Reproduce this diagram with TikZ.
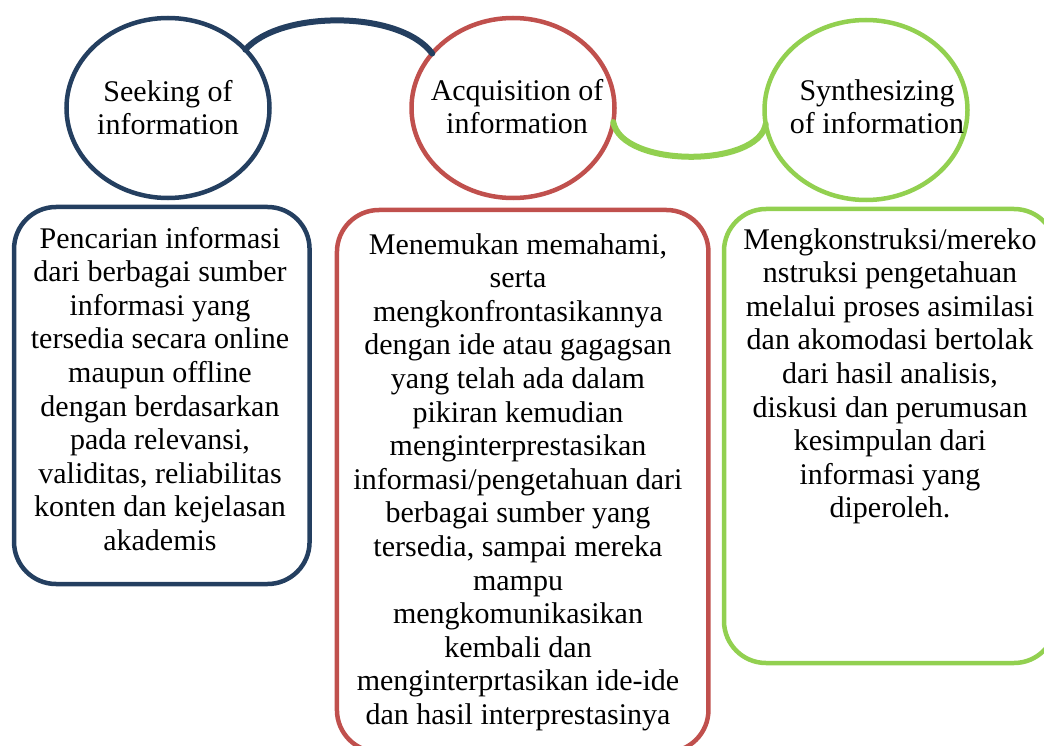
\documentclass[tikz,border=0pt]{standalone}
\usepackage{fontspec}
\setmainfont{Liberation Serif}
\usetikzlibrary{shapes.geometric}
\definecolor{navy}{HTML}{243F60}
\definecolor{brick}{HTML}{C0504D}
\definecolor{lime}{HTML}{92D050}
\begin{document}
\begin{tikzpicture}[x=1pt,y=-1pt,
  circ/.style={ellipse, draw, line width=4.5pt, minimum width=203pt, minimum height=180pt, inner sep=0pt, outer sep=0pt},
  boxshape/.style={draw, line width=4.5pt, rounded corners=42pt, inner sep=0pt, outer sep=0pt},
  lbl/.style={align=center, font=\fontsize{30}{33.6}\selectfont, inner sep=0pt, anchor=base},
  link/.style={line width=6pt, line cap=round}]
\clip (0,0) rectangle (1044,746);
% ellipses
\node[circ, navy]  (e1) at (168,108) {};
\node[circ, brick] (e2) at (513,108) {};
\node[circ, lime]  (e3) at (866,110) {};
\node[lbl] (t1) at (168,135) {Seeking of\\information};
\node[lbl] (t2) at (517,134) {Acquisition of\\information};
\node[lbl] (t3) at (877,134) {Synthesizing\\of information};
% connectors
\draw[link, navy] (e1.37) .. controls (280,10) and (400,10) .. (e2.146);
\draw[link, lime] (e2.-8) .. controls (622,168) and (758,168) .. (e3.188);
% boxes
\node[boxshape, navy, minimum width=295.5pt, minimum height=377pt] (b1) at (161.8,395.5) {};
\node[boxshape, brick, minimum width=371.5pt, minimum height=542pt] (b2) at (522.7,481) {};
\node[boxshape, lime, minimum width=332pt, minimum height=454pt] (b3) at (890,436) {};
\node[lbl] (d1) at (160,550.4) {Pencarian informasi\\dari berbagai sumber\\informasi yang\\tersedia secara online\\maupun offline\\dengan berdasarkan\\pada relevansi,\\validitas, reliabilitas\\konten dan kejelasan\\akademis};
\node[lbl] (d2) at (518,724.4) {Menemukan memahami,\\serta\\mengkonfrontasikannya\\dengan ide atau gagagsan\\yang telah ada dalam\\pikiran kemudian\\menginterprestasikan\\informasi/pengetahuan dari\\berbagai sumber yang\\tersedia, sampai mereka\\mampu\\mengkomunikasikan\\kembali dan\\menginterprtasikan ide-ide\\dan hasil interprestasinya};
\node[lbl] (d3) at (890,517.8) {Mengkonstruksi/mereko\\nstruksi pengetahuan\\melalui proses asimilasi\\dan akomodasi bertolak\\dari hasil analisis,\\diskusi dan perumusan\\kesimpulan dari\\informasi yang\\diperoleh.};
\end{tikzpicture}
\end{document}
